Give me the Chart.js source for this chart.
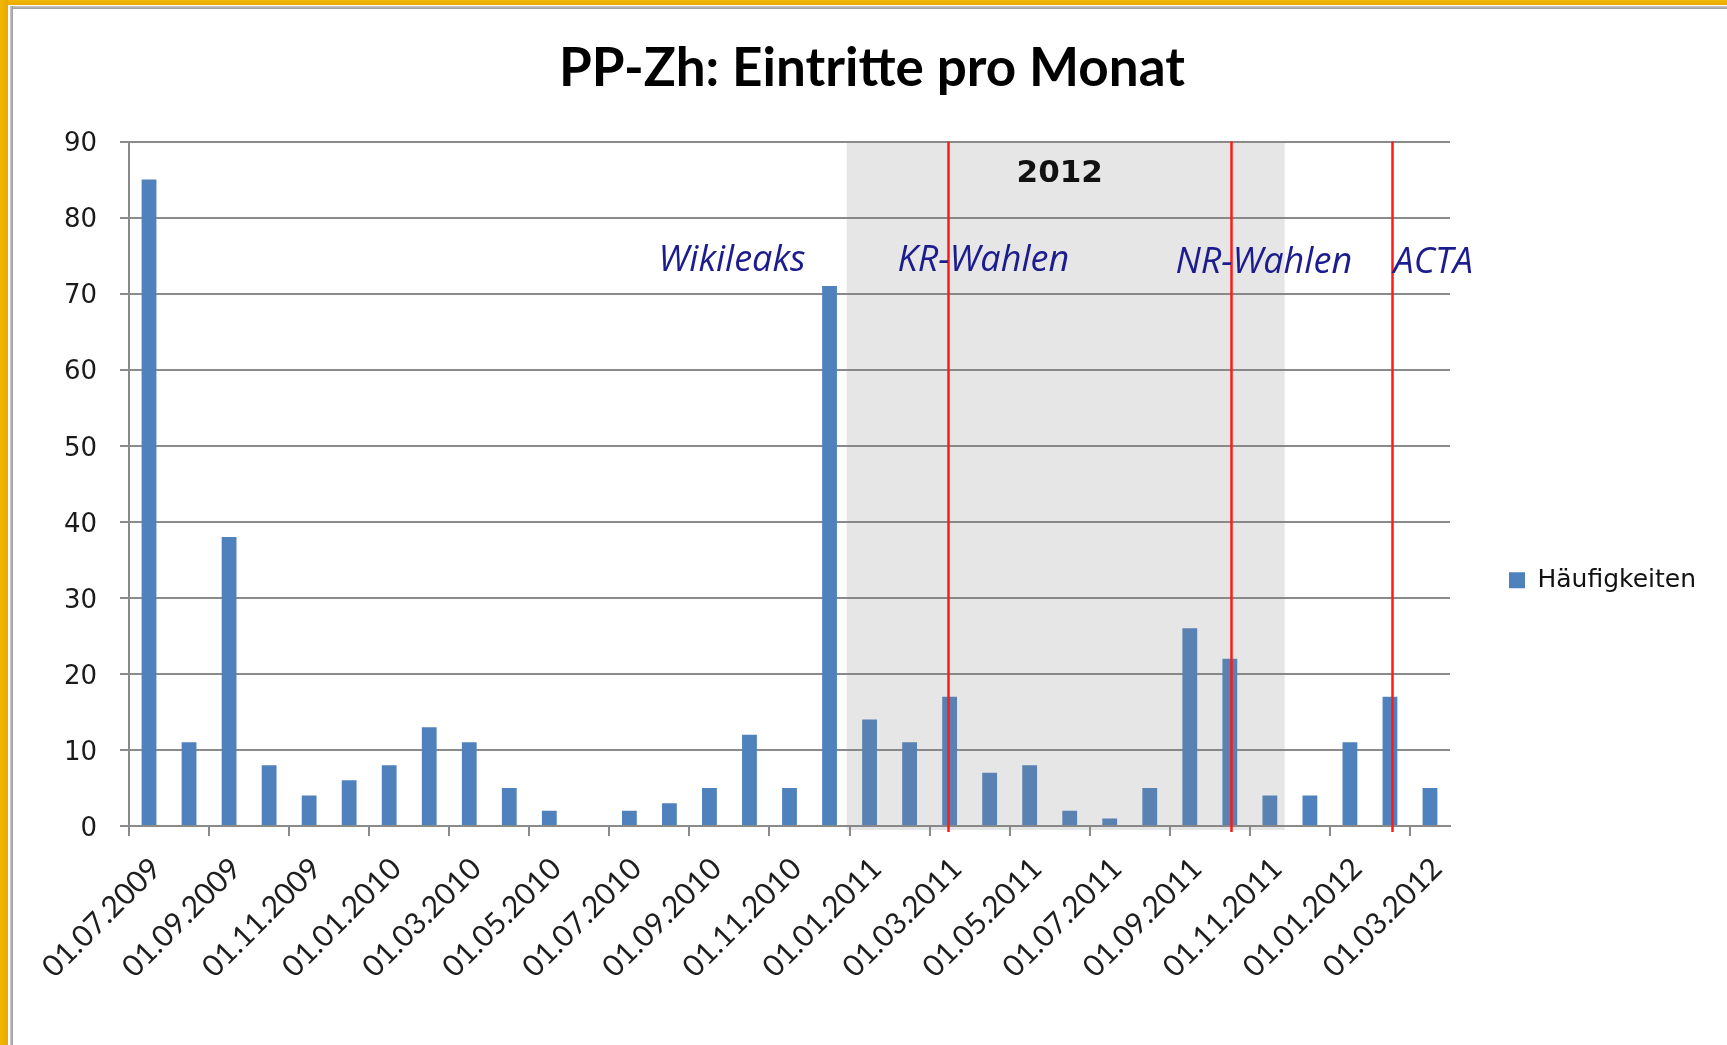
<!DOCTYPE html>
<html>
<head>
<meta charset="utf-8">
<title>PP-Zh: Eintritte pro Monat</title>
<script src="https://cdn.jsdelivr.net/npm/chart.js@4.4.1/dist/chart.umd.min.js"></script>
<style>
    html, body { margin: 0; padding: 0; background: #ffffff; overflow: hidden; }
    #wrap { position: relative; width: 1727px; height: 1045px; }
    #chart { position: absolute; left: 0; top: 0; }
    .rand { position: absolute; pointer-events: none; }
</style>
</head>
<body>
<div id="wrap">
    <canvas id="chart" width="1727" height="1045"></canvas>
    <div class="rand" style="left:0;top:0;width:1727px;height:5px;background:linear-gradient(#f2b705,#eaa800);"></div>
    <div class="rand" style="left:0;top:0;width:8px;height:1045px;background:linear-gradient(90deg,#f2b705,#eaa800);"></div>
    <div class="rand" style="left:10px;top:6px;width:1717px;height:3px;background:linear-gradient(#c8c8c8,#9a9a9a);"></div>
    <div class="rand" style="left:10px;top:6px;width:3px;height:1039px;background:linear-gradient(90deg,#c8c8c8,#9a9a9a);"></div>
</div>
<script>
// Monate ab Juli 2009, ein Balken pro Monat
const monate = [
    "07.2009", "08.2009", "09.2009", "10.2009", "11.2009", "12.2009",
    "01.2010", "02.2010", "03.2010", "04.2010", "05.2010", "06.2010",
    "07.2010", "08.2010", "09.2010", "10.2010", "11.2010", "12.2010",
    "01.2011", "02.2011", "03.2011", "04.2011", "05.2011", "06.2011",
    "07.2011", "08.2011", "09.2011", "10.2011", "11.2011", "12.2011",
    "01.2012", "02.2012", "03.2012"
];
const haeufigkeiten = [
    85, 11, 38, 8, 4, 6,
    8, 13, 11, 5, 2, 0,
    2, 3, 5, 12, 5, 71,
    14, 11, 17, 7, 8, 2,
    1, 5, 26, 22, 4, 4,
    11, 17, 5
];
// Achsenbeschriftung alle zwei Monate
const tickLabels = [
    "01.07.2009", "01.09.2009", "01.11.2009", "01.01.2010", "01.03.2010",
    "01.05.2010", "01.07.2010", "01.09.2010", "01.11.2010", "01.01.2011",
    "01.03.2011", "01.05.2011", "01.07.2011", "01.09.2011", "01.11.2011",
    "01.01.2012", "01.03.2012"
];
const yTicks = [0, 10, 20, 30, 40, 50, 60, 70, 80, 90];

// Ereignisse (Position in Monaten ab 01.07.2009)
const ereignisse = ["Wikileaks", "KR-Wahlen", "NR-Wahlen", "ACTA"];
const ereignisTextX = [13.23, 19.2, 26.14, 31.59];
const ereignisTextY = [74.35, 74.35, 74.1, 74.1];
const roteLinien = [20.47, 27.53, 31.55];
const schattenVon = 17.93;
const schattenBis = 28.87;
const schattenText = "2012";
const schattenTextX = 23.25;
const schattenTextY = 85.8;

const gridColor = "#8a8a8a";

function buildBars() {
    var punkte = [];
    for (var i = 0; i < haeufigkeiten.length; i++) {
        punkte.push({ x: i + 0.5, y: haeufigkeiten[i] });
    }
    return punkte;
}

const overlayPlugin = {
    id: "overlay",
    afterInit(chart) {
        // feste Legendenbreite, damit die Zeichenflaeche bei x=1450 endet
        let legend = chart.legend;
        let origFit = legend.fit.bind(legend);
        legend.fit = function () {
            origFit();
            this.width = 277;
        };
    },
    afterLayout(chart) {
        // Legende etwas tiefer als die Mitte der Zeichenflaeche (wie in Excel)
        chart.legend.top = chart.chartArea.top;
        chart.legend.bottom = 1019;
        chart.legend.height = chart.legend.bottom - chart.legend.top;
    },
    afterDatasetsDraw(chart) {
        let ctx = chart.ctx;
        let xs = chart.scales.x;
        let ys = chart.scales.y;
        let top = ys.getPixelForValue(90);
        let bottom = ys.getPixelForValue(0);
        ctx.save();

        // grauer Bereich
        let x0 = xs.getPixelForValue(schattenVon);
        let x1 = xs.getPixelForValue(schattenBis);
        ctx.fillStyle = "rgba(128,128,128,0.2)";
        ctx.fillRect(x0, top + 1, x1 - x0, bottom - top + 3);

        // rote Linien
        ctx.strokeStyle = "#ff1a1a";
        ctx.lineWidth = 2.5;
        roteLinien.forEach(function (m) {
            let px = Math.round(xs.getPixelForValue(m)) + 0.5;
            ctx.beginPath();
            ctx.moveTo(px, top);
            ctx.lineTo(px, bottom + 6);
            ctx.stroke();
        });

        // Beschriftungen
        ctx.font = "italic 36px 'Open Sans'";
        ctx.fillStyle = "#1c1c8e";
        ctx.textAlign = "left";
        ctx.textBaseline = "middle";
        for (var i = 0; i < ereignisse.length; i++) {
            ctx.fillText(ereignisse[i], xs.getPixelForValue(ereignisTextX[i]), ys.getPixelForValue(ereignisTextY[i]));
        }
        ctx.font = "bold 31px 'DejaVu Sans'";
        ctx.fillStyle = "#111111";
        ctx.textAlign = "center";
        ctx.fillText(schattenText, xs.getPixelForValue(schattenTextX), ys.getPixelForValue(schattenTextY));
        ctx.restore();
    }
};

new Chart(document.getElementById("chart"), {
    type: "bar",
    data: {
        datasets: [{
            label: "Häufigkeiten",
            data: buildBars(),
            backgroundColor: "#4f81bd",
            borderWidth: 0,
            categoryPercentage: 1.0,
            barPercentage: 0.37
        }]
    },
    options: {
        responsive: false,
        animation: false,
        layout: { padding: { left: 17, right: 0, top: 0, bottom: 50 } },
        plugins: {
            title: {
                display: true,
                text: "PP-Zh: Eintritte pro Monat",
                color: "#000000",
                font: { family: "Lato", size: 53, weight: "bold" },
                padding: { top: 37, bottom: 41 }
            },
            legend: {
                display: true,
                position: "right",
                labels: {
                    boxWidth: 16,
                    boxHeight: 16,
                    padding: 59,
                    color: "#111111",
                    font: { family: "DejaVu Sans", size: 25 }
                }
            },
            tooltip: { enabled: false }
        },
        scales: {
            x: {
                type: "linear",
                min: 0,
                max: monate.length,
                offset: false,
                afterFit(scale) { scale.height = 169; },
                grid: {
                    offset: false,
                    drawOnChartArea: false,
                    drawTicks: true,
                    tickLength: 10,
                    color: gridColor,
                    lineWidth: 2
                },
                border: { color: gridColor, width: 2 },
                ticks: {
                    stepSize: 2,
                    includeBounds: false,
                    minRotation: 45,
                    maxRotation: 45,
                    autoSkip: false,
                    padding: 15,
                    labelOffset: 27,
                    color: "#1e1e1e",
                    font: { family: "Lato", size: 30 },
                    callback: function (value) {
                        let idx = value / 2;
                        return tickLabels[idx] !== undefined ? tickLabels[idx] : "";
                    }
                }
            },
            y: {
                min: yTicks[0],
                max: yTicks[yTicks.length - 1],
                afterFit(scale) { scale.width = 112; },
                grid: {
                    color: gridColor,
                    lineWidth: 2,
                    tickLength: 9
                },
                border: { color: gridColor, width: 2 },
                ticks: {
                    stepSize: 10,
                    padding: 23,
                    labelOffset: 3,
                    color: "#1a1a1a",
                    font: { family: "DejaVu Sans", size: 26 }
                }
            }
        }
    },
    plugins: [overlayPlugin]
});
</script>
</body>
</html>
